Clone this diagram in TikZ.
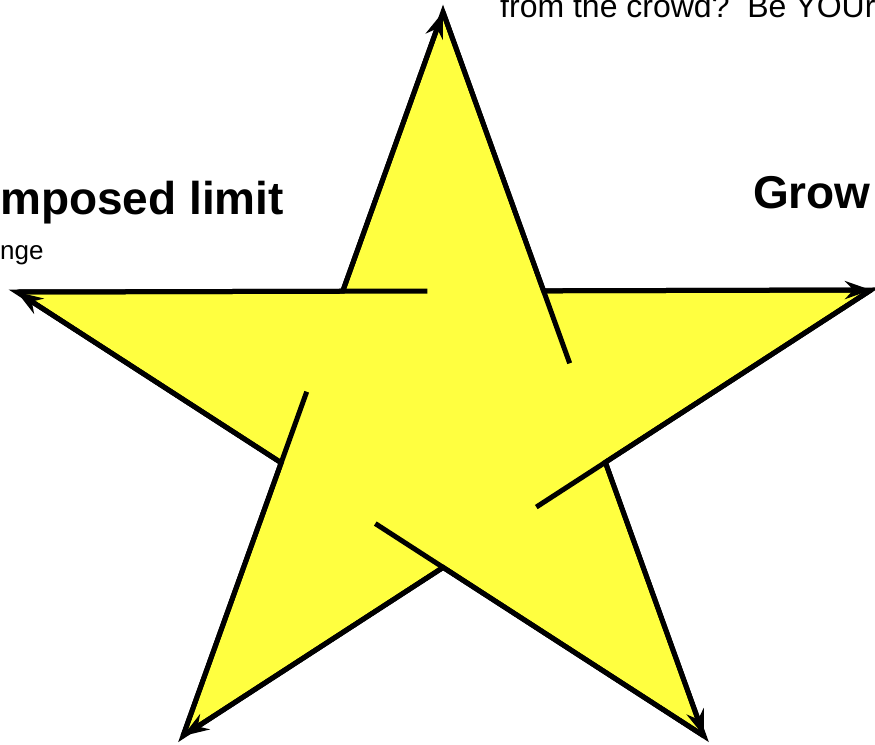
\documentclass[tikz,border=0pt]{standalone}
\usepackage{fontspec}
\setmainfont{Liberation Sans}
\usepackage{tikz}
\usetikzlibrary{arrows.meta, calc}

\definecolor{staryellow}{RGB}{255,255,64}

\begin{document}
\begin{tikzpicture}[
    x=1pt, y=-1pt,
    starbody/.style={fill=staryellow, draw=black, line width=5pt},
    arm/.style={line width=5pt, -{Stealth[length=26pt, width=18pt]}},
    tail/.style={line width=5pt},
    heading/.style={anchor=base west, inner sep=0pt, font=\fontsize{46pt}{52pt}\selectfont\bfseries},
    note/.style={anchor=base west, inner sep=0pt, font=\fontsize{26pt}{31pt}\selectfont},
    motto/.style={anchor=base west, inner sep=0pt, font=\fontsize{32pt}{38pt}\selectfont},
]
  \useasboundingbox (0,0) rectangle (875,744);

  % tips of the star
  \coordinate (tipL) at (17,292);
  \coordinate (tipT) at (443,12);
  \coordinate (tipR) at (871,290);
  \coordinate (tipBR) at (704,736);
  \coordinate (tipBL) at (183,736);

  % inner corners
  \coordinate (inTL) at (intersection of tipT--tipBL and tipL--tipR);
  \coordinate (inTR) at (intersection of tipT--tipBR and tipL--tipR);
  \coordinate (inR) at (intersection of tipT--tipBR and tipR--tipBL);
  \coordinate (inB) at (intersection of tipL--tipBR and tipR--tipBL);
  \coordinate (inL) at (intersection of tipL--tipBR and tipT--tipBL);

  \draw[starbody] (tipL) -- (inTL) -- (tipT) -- (inTR) -- (tipR) -- (inR)
    -- (tipBR) -- (inB) -- (tipBL) -- (inL) -- cycle;

  % one arrow per point, its back edge running on into the middle
  \foreach \from/\tip/\next in {inL/tipL/inTL, inTL/tipT/inTR, inTR/tipR/inR,
      inR/tipBR/inB, inB/tipBL/inL} {
    \draw[arm] (\from) -- (\tip);
    \draw[tail] (\tip) -- ($(\tip)!1.26!(\next)$);
  }

  \node[heading] (limit) at (0,214) {mposed limit};
  \node[note] (range) at (0,259) {nge};
  \node[heading] (grow) at (753,208) {Grow};
  \node[motto] (crowd) at (500,17) {from the crowd?\ \ Be YOUr};
\end{tikzpicture}
\end{document}
